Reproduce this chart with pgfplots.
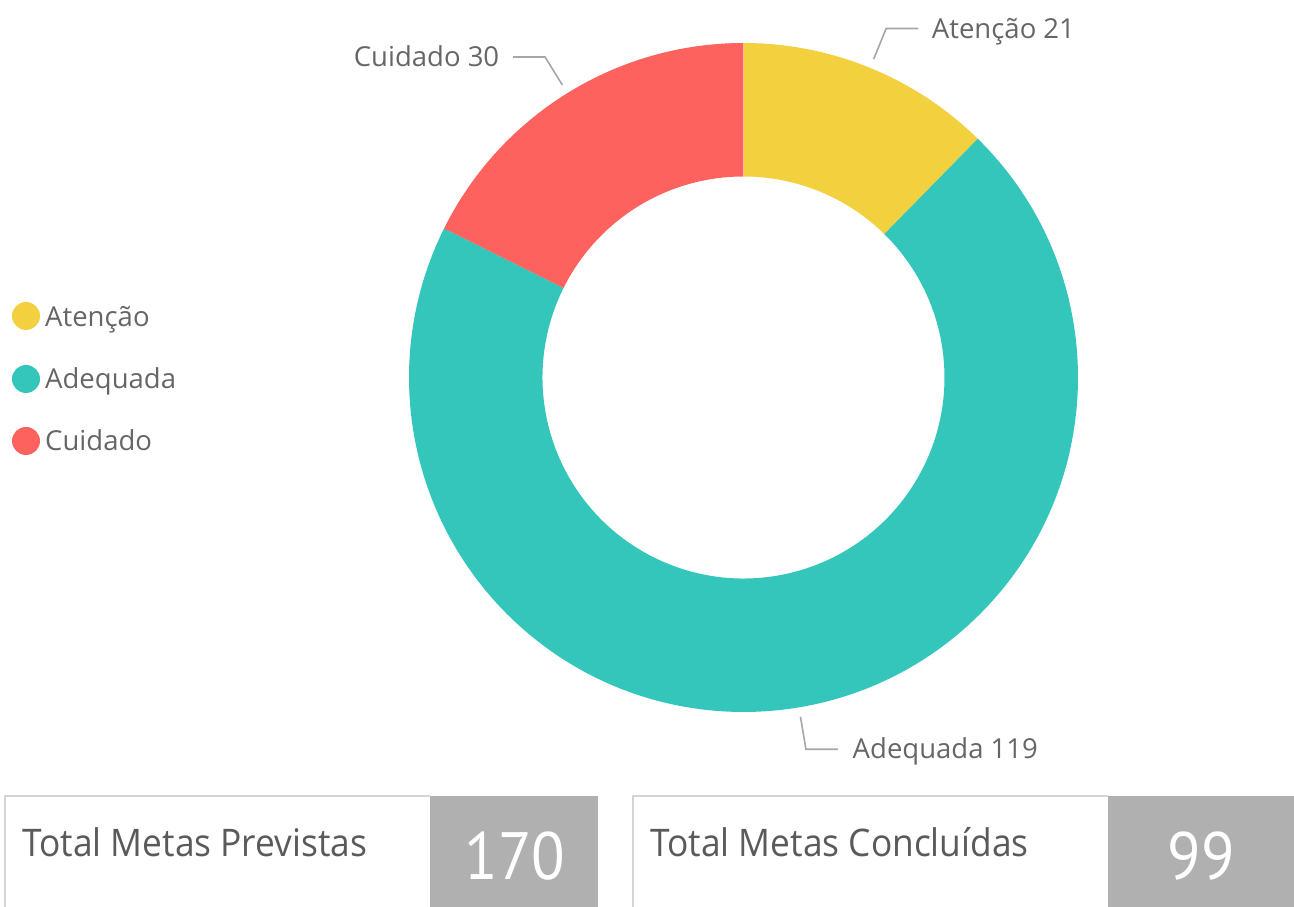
\documentclass[border=0pt]{standalone}
\usepackage{pgfplots}
\pgfplotsset{compat=1.18}
\usepackage{pgfplotstable}
\usepackage{fontspec}
\setmainfont{Open Sans}
\newfontfamily\valfont{PT Sans}
\definecolor{cAt}{HTML}{F2D03E}
\definecolor{cAd}{HTML}{35C6BB}
\definecolor{cCu}{HTML}{FD625E}
\definecolor{txt}{HTML}{666666}
\definecolor{cardtxt}{HTML}{5A5A5A}
\definecolor{boxgray}{HTML}{B0B0B0}
\definecolor{cardborder}{HTML}{D4D4D4}
\definecolor{leader}{HTML}{A6A6A6}

\pgfplotstableread[col sep=comma]{
name,value
Atenção,21
Adequada,119
Cuidado,30
}\donutdata

\pgfplotstableread[col sep=comma]{
title,value
Total Metas Previstas,170
Total Metas Concluídas,99
}\carddata

\begin{document}
\begin{tikzpicture}
\pgfplotstablegetelem{0}{value}\of\donutdata \edef\vA{\pgfplotsretval}
\pgfplotstablegetelem{1}{value}\of\donutdata \edef\vB{\pgfplotsretval}
\pgfplotstablegetelem{2}{value}\of\donutdata \edef\vC{\pgfplotsretval}
\pgfplotstablegetelem{0}{name}\of\donutdata \edef\nA{\pgfplotsretval}
\pgfplotstablegetelem{1}{name}\of\donutdata \edef\nB{\pgfplotsretval}
\pgfplotstablegetelem{2}{name}\of\donutdata \edef\nC{\pgfplotsretval}
\pgfplotstablegetelem{0}{title}\of\carddata \edef\tA{\pgfplotsretval}
\pgfplotstablegetelem{1}{title}\of\carddata \edef\tB{\pgfplotsretval}
\pgfplotstablegetelem{0}{value}\of\carddata \edef\kA{\pgfplotsretval}
\pgfplotstablegetelem{1}{value}\of\carddata \edef\kB{\pgfplotsretval}
\pgfmathsetmacro\tot{\vA+\vB+\vC}
\pgfmathsetmacro\aA{90}
\pgfmathsetmacro\aB{\aA-360*(\vA/\tot)}
\pgfmathsetmacro\aC{\aB-360*(\vB/\tot)}
\pgfmathsetmacro\aD{\aC-360*(\vC/\tot)}
\pgfmathsetmacro\mA{(\aA+\aB)/2}
\pgfmathsetmacro\mB{(\aB+\aC)/2}
\pgfmathsetmacro\mC{(\aC+\aD)/2}
\def\dcx{743.5}\def\dcy{529.5}\def\Rout{334.5}\def\Rin{201}
\def\Rl{344}\def\Re{377}
\begin{axis}[hide axis, scale only axis, width=1294pt, height=907pt,
  xmin=0, xmax=1294, ymin=0, ymax=907, clip=false, enlargelimits=false]
% donut sectors
\fill[cAt] ({\dcx+\Rout*cos(\aA)},{\dcy+\Rout*sin(\aA)}) arc[start angle=\aA,end angle=\aB,radius=\Rout pt]
  -- ({\dcx+\Rin*cos(\aB)},{\dcy+\Rin*sin(\aB)}) arc[start angle=\aB,end angle=\aA,radius=\Rin pt] -- cycle;
\fill[cAd] ({\dcx+\Rout*cos(\aB)},{\dcy+\Rout*sin(\aB)}) arc[start angle=\aB,end angle=\aC,radius=\Rout pt]
  -- ({\dcx+\Rin*cos(\aC)},{\dcy+\Rin*sin(\aC)}) arc[start angle=\aC,end angle=\aB,radius=\Rin pt] -- cycle;
\fill[cCu] ({\dcx+\Rout*cos(\aC)},{\dcy+\Rout*sin(\aC)}) arc[start angle=\aC,end angle=\aD,radius=\Rout pt]
  -- ({\dcx+\Rin*cos(\aD)},{\dcy+\Rin*sin(\aD)}) arc[start angle=\aD,end angle=\aC,radius=\Rin pt] -- cycle;
% leader lines and labels
\draw[leader, line width=1.6pt] ({\dcx+\Rl*cos(\mA)},{\dcy+\Rl*sin(\mA)}) -- ({\dcx+\Re*cos(\mA)},{\dcy+\Re*sin(\mA)}) -- ++(32pt,0)
  node[anchor=base west, inner sep=0pt, xshift=13pt, yshift=-9.5pt, text=txt, font=\fontsize{27.5}{33}\selectfont]{\nA\ \vA};
\draw[leader, line width=1.6pt] ({\dcx+\Rl*cos(\mB)},{\dcy+\Rl*sin(\mB)}) -- ({\dcx+\Re*cos(\mB)},{\dcy+\Re*sin(\mB)}) -- ++(32pt,0)
  node[anchor=base west, inner sep=0pt, xshift=14pt, yshift=-9.5pt, text=txt, font=\fontsize{27.5}{33}\selectfont]{\nB\ \vB};
\draw[leader, line width=1.6pt] ({\dcx+\Rl*cos(\mC)},{\dcy+\Rl*sin(\mC)}) -- ({\dcx+\Re*cos(\mC)},{\dcy+\Re*sin(\mC)}) -- ++(-32pt,0)
  node[anchor=base east, inner sep=0pt, xshift=-13pt, yshift=-9.5pt, text=txt, font=\fontsize{27.5}{33}\selectfont]{\nC\ \vC};
% legend
\fill[cAt] (26,591) circle[radius=14pt];
\fill[cAd] (26,528) circle[radius=14pt];
\fill[cCu] (26,466) circle[radius=14pt];
\node[anchor=base west, inner sep=0pt, text=txt, font=\fontsize{27.5}{33}\selectfont] at (45,580) {\nA};
\node[anchor=base west, inner sep=0pt, text=txt, font=\fontsize{27.5}{33}\selectfont] at (45,518) {\nB};
\node[anchor=base west, inner sep=0pt, text=txt, font=\fontsize{27.5}{33}\selectfont] at (45,456) {\nC};
% cards
\fill[boxgray] (430,-5) rectangle (598,111);
\draw[cardborder, line width=2pt] (5,-5) -- (5,111) -- (430,111);
\fill[boxgray] (1108,-5) rectangle (1300,111);
\draw[cardborder, line width=2pt] (633,-5) -- (633,111) -- (1108,111);
\node[anchor=base west, inner sep=0pt, text=cardtxt, xscale=0.93, font=\fontsize{38}{44}\selectfont] at (22,50) {\tA};
\node[anchor=base west, inner sep=0pt, text=cardtxt, xscale=0.93, font=\fontsize{38}{44}\selectfont] at (650,50) {\tB};
\node[anchor=base, inner sep=0pt, text=white, xscale=0.92, font=\valfont\fontsize{67}{70}\selectfont] at (515,27) {\kA};
\node[anchor=base, inner sep=0pt, text=white, xscale=0.92, font=\valfont\fontsize{67}{70}\selectfont] at (1201,27) {\kB};
\end{axis}
\pgfresetboundingbox
\path[use as bounding box] (current axis.south west) rectangle (current axis.north east);
\end{tikzpicture}
\end{document}
